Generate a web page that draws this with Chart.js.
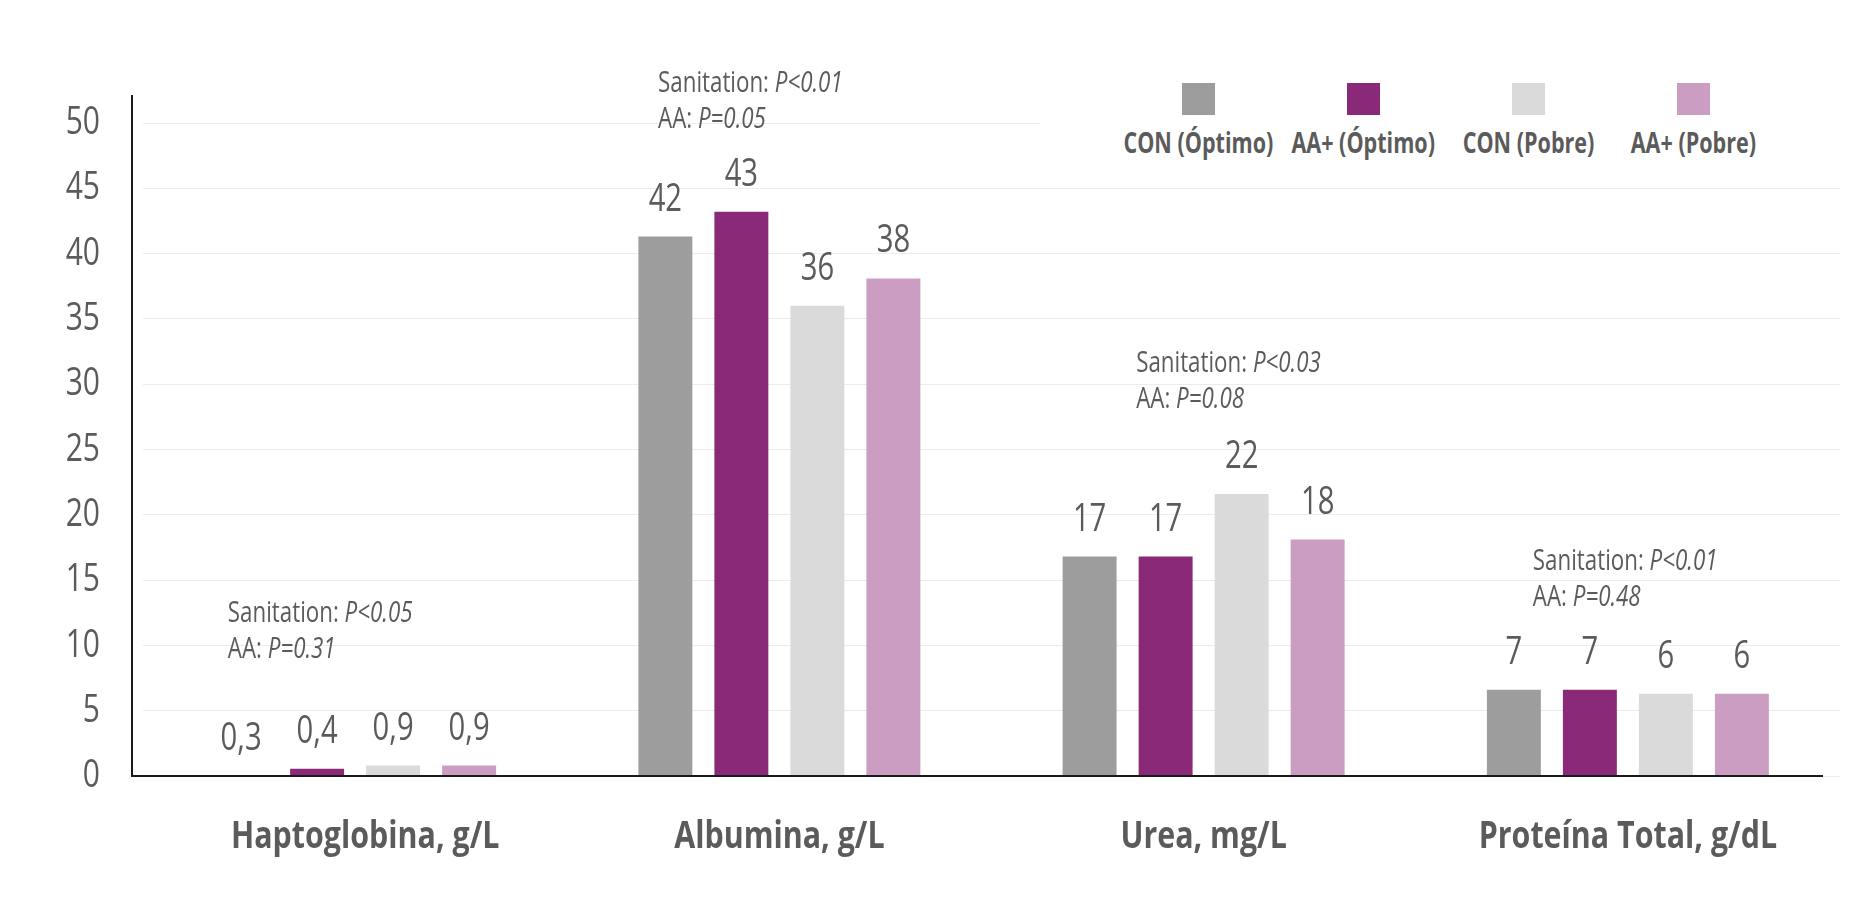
<!DOCTYPE html>
<html>
<head>
<meta charset="utf-8">
<title>Parámetros sanguíneos</title>
<script src="https://cdn.jsdelivr.net/npm/chart.js@4.4.1/dist/chart.umd.min.js"></script>
<style>
  body { margin: 0; background: #fff; }
  #wrap { position: relative; width: 1854px; height: 914px; }
  #legend {
    position: absolute; left: 1040px; top: 60px; width: 814px; height: 110px;
    background: #fff; display: flex; padding-left: 76px; box-sizing: border-box;
  }
  .item { width: 165px; display: flex; flex-direction: column; align-items: center; }
  .box { width: 33px; height: 32px; margin-top: 23px; }
  .txt {
    margin-top: 8px; font: bold 28px "Open Sans", sans-serif;
    color: #5b5b5b; white-space: nowrap; transform: scaleX(0.77);
  }
</style>
</head>
<body>
<div id="wrap">
  <canvas id="bar-chart" width="1854" height="914"></canvas>
  <div id="legend"></div>
</div>
<script>
const categories = ['Haptoglobina, g/L', 'Albumina, g/L', 'Urea, mg/L', 'Proteína Total, g/dL'];
const seriesNames = ['CON (Óptimo)', 'AA+ (Óptimo)', 'CON (Pobre)', 'AA+ (Pobre)'];
const seriesColors = ['#9d9d9d', '#8a2977', '#dadada', '#cb9dc3'];

// bar heights
const conOptimo = [0, 41.3, 16.8, 6.6];
const aaOptimo = [0.55, 43.2, 16.8, 6.6];
const conPobre = [0.8, 36.0, 21.6, 6.3];
const aaPobre = [0.8, 38.1, 18.1, 6.3];

// printed labels above the bars
const conOptimoText = ['0,3', '42', '17', '7'];
const aaOptimoText = ['0,4', '43', '17', '7'];
const conPobreText = ['0,9', '36', '22', '6'];
const aaPobreText = ['0,9', '38', '18', '6'];

const yMin = 0;
const yMax = 50;
const yStep = 5;

// significance notes per category
const noteSanitation = ['P<0.05', 'P<0.01', 'P<0.03', 'P<0.01'];
const noteAA = ['P=0.31', 'P=0.05', 'P=0.08', 'P=0.48'];
const noteLevel = [11.8, 52.4, 30.9, 15.8];
const noteShift = [-0.30, -0.286, -0.159, -0.224];

const FONT = '"Open Sans", sans-serif';
const TEXT = '#5b5b5b';
const SX = 0.77; // condensed look

const allValues = [conOptimo, aaOptimo, conPobre, aaPobre];
const allTexts = [conOptimoText, aaOptimoText, conPobreText, aaPobreText];

function squeezed(c, text, x, y, align, sx) {
  c.save();
  c.translate(x, y);
  c.scale(sx || SX, 1);
  c.textAlign = align;
  c.fillText(text, 0, 0);
  c.restore();
}

// narrow text (ticks, value labels, notes) + axis lines
const extras = {
  id: 'extras',
  afterDatasetsDraw(chart) {
    const c = chart.ctx;
    const xs = chart.scales.x, ys = chart.scales.y;
    const a = chart.chartArea;
    c.save();
    c.fillStyle = TEXT;

    // y ticks
    c.font = '39px ' + FONT;
    c.textBaseline = 'middle';
    ys.ticks.forEach(t => {
      squeezed(c, String(t.value), a.left - 43, ys.getPixelForValue(t.value), 'right');
    });

    // category labels
    c.font = 'bold 38px ' + FONT;
    chart.data.labels.forEach((lab, i) => {
      squeezed(c, lab, xs.getPixelForValue(i) + (i === 0 ? 10 : 0), a.bottom + 61, 'center', 0.8);
    });

    // value labels
    c.font = '38px ' + FONT;
    c.textBaseline = 'alphabetic';
    chart.data.datasets.forEach((ds, i) => {
      chart.getDatasetMeta(i).data.forEach((bar, j) => {
        squeezed(c, allTexts[i][j], bar.x, bar.y - 26, 'center');
      });
    });

    // notes
    const catW = (a.right - a.left) / categories.length;
    noteSanitation.forEach((p, k) => {
      const x = xs.getPixelForValue(k) + noteShift[k] * catW;
      const y = ys.getPixelForValue(noteLevel[k]);
      [['Sanitation: ', p, y], ['AA: ', noteAA[k], y + 36]].forEach(([head, val, yy]) => {
        c.font = '29px ' + FONT;
        squeezed(c, head, x, yy, 'left');
        const w = c.measureText(head).width * SX;
        c.font = 'italic 29px ' + FONT;
        squeezed(c, val, x + w, yy, 'left');
      });
    });

    c.strokeStyle = '#1a1a1a';
    c.lineWidth = 2;
    c.beginPath();
    c.moveTo(a.left - 11, a.top - 28);
    c.lineTo(a.left - 11, a.bottom);
    c.lineTo(a.right - 17, a.bottom);
    c.stroke();
    c.restore();
  }
};

const ctx = document.getElementById('bar-chart').getContext('2d');
const chart = new Chart(ctx, {
  type: 'bar',
  data: {
    labels: categories,
    datasets: seriesNames.map((name, i) => ({
      label: name,
      data: allValues[i],
      backgroundColor: seriesColors[i],
      borderWidth: 0,
      categoryPercentage: 0.7166,
      barPercentage: 0.71
    }))
  },
  options: {
    responsive: false,
    maintainAspectRatio: false,
    animation: false,
    layout: { padding: { top: 123, right: 14, left: 0, bottom: 0 } },
    plugins: {
      legend: { display: false },
      tooltip: { enabled: false }
    },
    scales: {
      y: {
        min: yMin,
        max: yMax,
        afterFit(scale) { scale.width = 143; },
        border: { display: false },
        grid: { color: '#ececec', lineWidth: 1, drawTicks: false },
        ticks: { stepSize: yStep, display: false }
      },
      x: {
        afterFit(scale) { scale.height = 138; },
        border: { display: false },
        grid: { display: false, drawTicks: false },
        ticks: { display: false }
      }
    }
  },
  plugins: [extras]
});

// legend: square above its name
const legend = document.getElementById('legend');
chart.data.datasets.forEach(ds => {
  const item = document.createElement('div');
  item.className = 'item';
  const box = document.createElement('div');
  box.className = 'box';
  box.style.background = ds.backgroundColor;
  const txt = document.createElement('div');
  txt.className = 'txt';
  txt.textContent = ds.label;
  item.appendChild(box);
  item.appendChild(txt);
  legend.appendChild(item);
});
</script>
</body>
</html>
